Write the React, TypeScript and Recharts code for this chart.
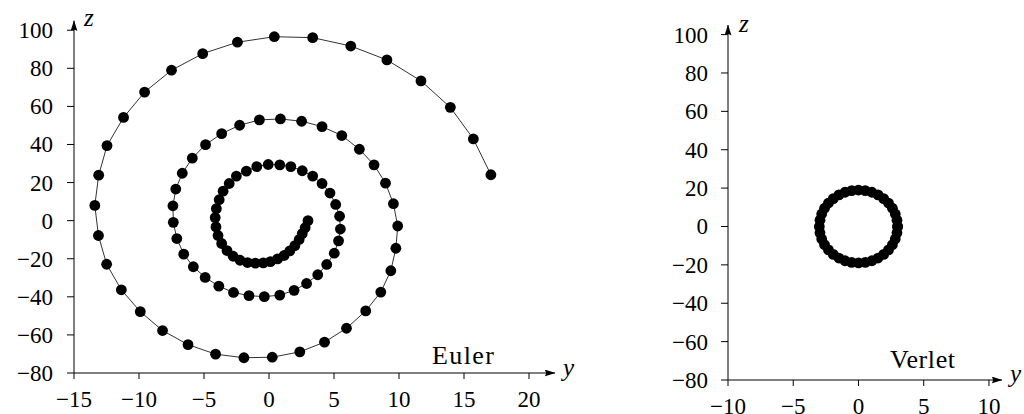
import { Scatter, ScatterChart, XAxis, YAxis } from "recharts";

// Euler: horizontal y, vertical z, in time order (from the centre outward)
const eulerY = [
  3.0, 2.78, 2.56, 2.32, 1.99, 1.6, 1.16, 0.66, 0.11, -0.44, -1.05, -1.65, -2.23, -2.76, -3.23, -3.64,
  -3.92, -4.08, -4.14, -4.05, -3.83, -3.53, -3.06, -2.51, -1.74, -0.94, -0.06, 0.83, 1.68, 2.56, 3.36,
  4.08, 4.69, 5.13, 5.43, 5.49, 5.35, 5.02, 4.44, 3.75, 2.89, 1.93, 0.83, -0.36, -1.54, -2.73, -3.86,
  -4.91, -5.82, -6.56, -7.09, -7.36, -7.39, -7.17, -6.67, -5.9, -4.88, -3.64, -2.26, -0.74, 0.88, 2.51,
  4.08, 5.6, 6.95, 8.08, 8.96, 9.57, 9.9, 9.76, 9.37, 8.6, 7.44, 5.96, 4.27, 2.37, 0.25, -1.93, -4.11,
  -6.23, -8.19, -9.9, -11.36, -12.49, -13.12, -13.4, -13.1, -12.46, -11.19, -9.57, -7.5, -5.1, -2.43,
  0.41, 3.36, 6.29, 9.07, 11.69, 13.95, 15.72, 17.07
];
const eulerZ = [
  0.0, -3.7, -6.8, -9.9, -13.1, -15.9, -18.3, -20.1, -21.5, -22.2, -22.3, -22.0, -20.8, -18.7, -15.7,
  -12.0, -7.8, -3.3, 1.6, 6.3, 11.0, 15.5, 19.5, 23.4, 26.0, 28.4, 29.5, 29.3, 28.4, 26.2, 23.4, 19.5,
  14.5, 8.5, 2.3, -4.4, -10.6, -17.1, -23.0, -28.4, -33.0, -36.6, -39.1, -39.9, -39.4, -37.7, -34.4,
  -29.8, -24.2, -17.6, -9.4, -0.9, 7.8, 16.6, 24.9, 32.8, 39.9, 45.7, 50.1, 52.9, 53.4, 52.2, 49.4,
  44.7, 37.5, 29.3, 19.7, 8.9, -2.8, -14.5, -26.3, -37.5, -47.4, -56.5, -63.8, -68.9, -71.7, -72.0,
  -70.1, -65.1, -57.7, -47.8, -36.3, -22.9, -7.8, 8.0, 23.9, 39.4, 54.2, 67.5, 79.0, 87.7, 93.7, 96.6,
  96.1, 91.7, 84.4, 73.4, 59.5, 42.9, 24.1
];

// Verlet: closed orbit
const verletY = [
  3.0, 2.95, 2.82, 2.6, 2.3, 1.93, 1.5, 1.03, 0.52, 0.0, -0.52, -1.03, -1.5, -1.93, -2.3, -2.6, -2.82,
  -2.95, -3.0, -2.95, -2.82, -2.6, -2.3, -1.93, -1.5, -1.03, -0.52, 0.0, 0.52, 1.03, 1.5, 1.93, 2.3, 2.6,
  2.82, 2.95, 3.0
];
const verletZ = [
  0.0, -3.3, -6.5, -9.5, -12.21, -14.55, -16.45, -17.85, -18.71, -19.0, -18.71, -17.85, -16.45, -14.55,
  -12.21, -9.5, -6.5, -3.3, 0.0, 3.3, 6.5, 9.5, 12.21, 14.55, 16.45, 17.85, 18.71, 19.0, 18.71, 17.85,
  16.45, 14.55, 12.21, 9.5, 6.5, 3.3, 0.0
];

const eulerYTicks = [-15, -10, -5, 0, 5, 10, 15, 20];
const verletYTicks = [-10, -5, 0, 5, 10];
const zTicks = [-80, -60, -40, -20, 0, 20, 40, 60, 80, 100];

const eulerData = eulerY.map((y, i) => ({ y, z: eulerZ[i] }));
const verletData = verletY.map((y, i) => ({ y, z: verletZ[i] }));

const serif = "Liberation Serif, DejaVu Serif, serif";
const fmt = (v: number) => (v < 0 ? `\u2212${Math.abs(v)}` : `${v}`);

const dot = (props: any) => <circle cx={props.cx} cy={props.cy} r={5.4} fill="#000" />;

// tick labels drawn as plain svg text so the font is ours
const xTick = (props: any) => (
  <text x={props.x} y={props.y} dy={16} textAnchor="middle" fill="#000" fontSize={23} style={{ fontFamily: serif }}>
    {fmt(props.payload.value)}
  </text>
);
const zTick = (props: any) => (
  <text x={props.x} y={props.y} dy={8} textAnchor="end" fill="#000" fontSize={23} style={{ fontFamily: serif }}>
    {fmt(props.payload.value)}
  </text>
);

type PanelProps = {
  data: { y: number; z: number }[];
  yTicks: number[];
  yDomain: [number, number];
  width: number;
  axisWidth: number;
  margin: { top: number; right: number; bottom: number; left: number };
  xTickMargin: number;
  zTickMargin: number;
};

function Panel({ data, yTicks, yDomain, width, axisWidth, margin, xTickMargin, zTickMargin }: PanelProps) {
  return (
    <ScatterChart width={width} height={414} margin={margin}>
      <XAxis
        type="number"
        dataKey="y"
        domain={yDomain}
        ticks={yTicks}
        interval={0}
        height={30}
        tick={xTick}
        tickSize={6}
        tickMargin={xTickMargin}
        tickLine={{ stroke: "#000", strokeWidth: 1 }}
        axisLine={{ stroke: "#000", strokeWidth: 1, markerEnd: "url(#axis-arrow)" }}
      />
      <YAxis
        type="number"
        dataKey="z"
        domain={[-80, 105]}
        ticks={zTicks}
        interval={0}
        width={axisWidth}
        tick={zTick}
        tickSize={7}
        tickMargin={zTickMargin}
        tickLine={{ stroke: "#000", strokeWidth: 1 }}
        axisLine={{ stroke: "#000", strokeWidth: 1, markerStart: "url(#axis-arrow)" }}
      />
      <Scatter
        data={data}
        fill="#000"
        shape={dot}
        line={{ stroke: "#333", strokeWidth: 1 }}
        lineType="joint"
        isAnimationActive={false}
      />
    </ScatterChart>
  );
}

export default function App() {
  return (
    <div
      style={{
        position: "absolute",
        left: 0,
        top: 0,
        width: 1024,
        height: 414,
        background: "#fff",
        overflow: "hidden"
      }}
    >
      <div style={{ position: "absolute", left: 0, top: 0 }}>
        <Panel
          data={eulerData}
          yTicks={eulerYTicks}
          yDomain={[-15, 22]}
          width={600}
          axisWidth={74}
          margin={{ top: 20.7, right: 45, bottom: 11, left: 0 }}
          xTickMargin={12}
          zTickMargin={14}
        />
      </div>
      <div style={{ position: "absolute", left: 640, top: 0 }}>
        <Panel
          data={verletData}
          yTicks={verletYTicks}
          yDomain={[-10, 11]}
          width={384}
          axisWidth={88}
          margin={{ top: 25, right: 22, bottom: 4, left: 0 }}
          xTickMargin={12}
          zTickMargin={13}
        />
      </div>
      <svg
        width={1024}
        height={414}
        style={{ position: "absolute", left: 0, top: 0, pointerEvents: "none" }}
      >
        <defs>
          <marker
            id="axis-arrow"
            viewBox="0 0 11 7"
            refX={10.5}
            refY={3.5}
            markerWidth={11}
            markerHeight={7}
            markerUnits="userSpaceOnUse"
            orient="auto-start-reverse"
          >
            <path d="M0,0 Q3,3.5 0,7 L11,3.5 Z" fill="#000" />
          </marker>
        </defs>
        <g style={{ fontFamily: serif }} fill="#000">
          <text x={84} y={26} fontSize={25} fontStyle="italic">z</text>
          <text x={563} y={376} fontSize={25} fontStyle="italic">y</text>
          <text x={739} y={32} fontSize={25} fontStyle="italic">z</text>
          <text x={1010} y={382} fontSize={25} fontStyle="italic">y</text>
          <text x={432} y={364} fontSize={26} textLength={62} lengthAdjust="spacing">Euler</text>
          <text x={890} y={368} fontSize={26} textLength={65} lengthAdjust="spacing">Verlet</text>
        </g>
      </svg>
    </div>
  );
}
